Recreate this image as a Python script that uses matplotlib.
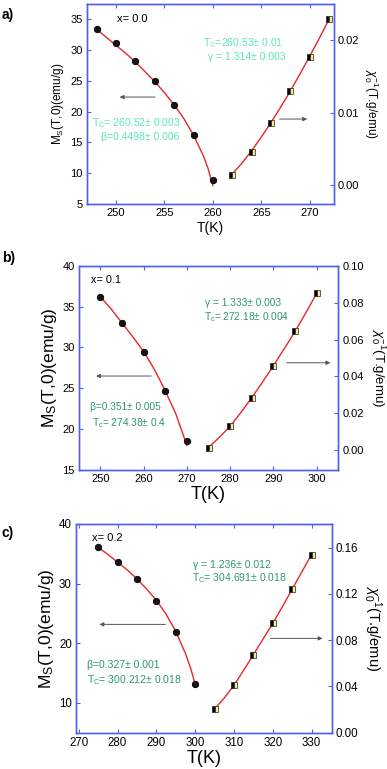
import matplotlib
matplotlib.use("Agg")
import matplotlib.pyplot as plt

plt.rcParams['font.family'] = ['Liberation Sans', 'DejaVu Sans']
plt.rcParams['mathtext.fontset'] = 'custom'
plt.rcParams['mathtext.rm'] = 'Liberation Sans'
plt.rcParams['mathtext.it'] = 'Liberation Sans:italic'

# ---- panel a) x = 0.0
a_T_ms = [248, 250, 252, 254, 256, 258, 260]
a_ms = [33.4, 31.2, 28.3, 25.0, 21.1, 16.2, 8.9]
a_T_chi = [262, 264, 266, 268, 270, 272]
a_chi = [0.00146, 0.00464, 0.00856, 0.0130, 0.0177, 0.0229]
a_fitT_ms = [248, 249, 250, 251, 252, 253, 254, 255, 256, 257, 258, 259, 259.5, 260]
a_fit_ms = [33.4, 32.1, 30.8, 29.5, 28.1, 26.5, 24.9, 23.1, 21.1, 18.9, 16.2, 12.9, 10.8, 8.0]
a_fitT_chi = [262, 263, 264, 265, 266, 267, 268, 269, 270, 271, 272]
a_fit_chi = [0.00154, 0.00304, 0.00476, 0.00663, 0.00865, 0.01077, 0.0130, 0.01536, 0.0178, 0.0203, 0.0229]

# ---- panel b) x = 0.1
b_T_ms = [250, 255, 260, 265, 270]
b_ms = [36.17, 32.94, 29.48, 24.63, 18.55]
b_T_chi = [275, 280, 285, 290, 295, 300]
b_chi = [0.00144, 0.0130, 0.0285, 0.0458, 0.0644, 0.0850]
b_fitT_ms = [250, 252.5, 255, 257.5, 260, 262.5, 265, 267.5, 270]
b_fit_ms = [36.2, 34.7, 33.0, 31.3, 29.5, 27.3, 24.7, 21.8, 18.0]
b_fitT_chi = [275, 277.5, 280, 282.5, 285, 287.5, 290, 292.5, 295, 297.5, 300]
b_fit_chi = [0.0015, 0.007, 0.013, 0.0205, 0.0285, 0.037, 0.0458, 0.055, 0.0644, 0.0745, 0.085]

# ---- panel c) x = 0.2
c_T_ms = [275, 280, 285, 290, 295, 300]
c_ms = [36.08, 33.66, 30.80, 27.16, 21.89, 13.09]
c_T_chi = [305, 310, 315, 320, 325, 330]
c_chi = [0.0205, 0.0409, 0.0674, 0.0945, 0.1241, 0.1541]
c_fitT_ms = [275, 277.5, 280, 282.5, 285, 287.5, 290, 292.5, 295, 297.5, 299, 300]
c_fit_ms = [36.1, 34.9, 33.6, 32.3, 30.8, 29.1, 27.2, 24.9, 22.0, 18.3, 15.5, 13.1]
c_fitT_chi = [305, 307.5, 310, 312.5, 315, 317.5, 320, 322.5, 325, 327.5, 330]
c_fit_chi = [0.0205, 0.030, 0.0409, 0.054, 0.0674, 0.081, 0.0945, 0.109, 0.1241, 0.139, 0.1541]

BLUE = '#4f5ff2'
RED = '#e8262b'
LIGHT = '#5ce6b2'
TEAL = '#2f9670'

fig = plt.figure(figsize=(3.87, 7.69), dpi=100)


def panel(rect, T_ms, ms, T_chi, chi, fT_ms, f_ms, fT_chi, f_chi,
          xlim, ylim, ylim2, xticks, yticks, yticks2, fs_tick):
    ax = fig.add_axes(rect)
    ax2 = ax.twinx()
    ax.plot(fT_ms, f_ms, color=RED, lw=1.0, zorder=2)
    ax.plot(T_ms, ms, 'o', ms=4.6, mfc='#151515', mec='#000000', mew=0.6, zorder=3)
    ax2.plot(fT_chi, f_chi, color=RED, lw=1.0, zorder=2)
    ax2.plot(T_chi, chi, 's', ms=4.0, fillstyle='left', mfc='#000000',
             mfcalt='#f0f08a', mec='#202020', mew=0.5, zorder=3)
    ax.set_xlim(*xlim)
    ax.set_ylim(*ylim)
    ax2.set_ylim(*ylim2)
    ax.set_xticks(xticks)
    ax.set_yticks(yticks)
    ax2.set_yticks(yticks2)
    for a in (ax, ax2):
        for s in a.spines.values():
            s.set_color(BLUE)
            s.set_linewidth(1.0)
    ax.tick_params(axis='both', direction='in', color=BLUE, length=3,
                   labelsize=fs_tick, top=True, pad=3)
    ax.tick_params(axis='y', right=False)
    ax2.tick_params(axis='y', direction='in', color=BLUE, length=3,
                    labelsize=fs_tick, pad=3)
    return ax, ax2


def arrow(ax, x0, x1, y):
    ax.annotate('', xy=(x1, y), xytext=(x0, y), xycoords='axes fraction',
                arrowprops=dict(arrowstyle='-|>', color='#555555', lw=0.7,
                                mutation_scale=6))


def note(ax, x, y, s, size, color):
    ax.text(x, y, s, transform=ax.transAxes, fontsize=size, color=color, va='center')


# ---- a)
ax, ax2 = panel([0.2248, 0.7347, 0.638, 0.260], a_T_ms, a_ms, a_T_chi, a_chi,
                a_fitT_ms, a_fit_ms, a_fitT_chi, a_fit_chi,
                (247.0, 272.5), (5, 37.5), (-0.0026, 0.025),
                [250, 255, 260, 265, 270], [5, 10, 15, 20, 25, 30, 35],
                [0.00, 0.01, 0.02], 8)
ax.set_xlabel('T(K)', fontsize=10, labelpad=2)
ax.set_ylabel(r'M$_\mathregular{S}$(T,0)(emu/g)', fontsize=8.5, labelpad=3)
ax2.set_ylabel(r'$\chi_0^{-1}$(T.g/emu)', fontsize=8.5, rotation=270, labelpad=15)
note(ax, 0.12, 0.925, 'x= 0.0', 8, 'black')
note(ax, 0.471, 0.803, r'T$_\mathregular{C}$=260.53± 0.01', 7.5, LIGHT)
note(ax, 0.49, 0.733, 'γ = 1.314± 0.003', 7.5, LIGHT)
note(ax, 0.019, 0.406, r'T$_\mathregular{C}$= 260.52± 0.003', 7.5, LIGHT)
note(ax, 0.055, 0.337, 'β=0.4498± 0.006', 7.5, LIGHT)
arrow(ax, 0.287, 0.121, 0.535)
arrow(ax, 0.769, 0.903, 0.425)

# ---- b)
ax, ax2 = panel([0.2034, 0.3888, 0.6708, 0.2657], b_T_ms, b_ms, b_T_chi, b_chi,
                b_fitT_ms, b_fit_ms, b_fitT_chi, b_fit_chi,
                (245, 305), (15, 40), (-0.0107, 0.10),
                [250, 260, 270, 280, 290, 300], [15, 20, 25, 30, 35, 40],
                [0.00, 0.02, 0.04, 0.06, 0.08, 0.10], 8)
ax.set_xlabel('T(K)', fontsize=13, labelpad=1)
ax.set_ylabel(r'M$_\mathregular{S}$(T,0)(emu/g)', fontsize=12.5, labelpad=2)
ax2.set_ylabel(r'$\chi_0^{-1}$(T.g/emu)', fontsize=9.5, rotation=270, labelpad=17)
note(ax, 0.046, 0.93, 'x= 0.1', 7.8, 'black')
note(ax, 0.486, 0.816, 'γ = 1.333± 0.003', 7.3, TEAL)
note(ax, 0.483, 0.75, r'T$_\mathregular{c}$= 272.18± 0.004', 7.3, TEAL)
note(ax, 0.0435, 0.31, 'β=0.351± 0.005', 7.3, TEAL)
note(ax, 0.05, 0.229, r'T$_\mathregular{c}$= 274.38± 0.4', 7.3, TEAL)
arrow(ax, 0.290, 0.056, 0.46)
arrow(ax, 0.791, 0.98, 0.525)

# ---- c)
ax, ax2 = panel([0.1964, 0.0472, 0.6607, 0.2714], c_T_ms, c_ms, c_T_chi, c_chi,
                c_fitT_ms, c_fit_ms, c_fitT_chi, c_fit_chi,
                (269.3, 335.2), (5, 40), (0.0, 0.1805),
                [270, 280, 290, 300, 310, 320, 330], [10, 20, 30, 40],
                [0.00, 0.04, 0.08, 0.12, 0.16], 8.3)
ax.set_xlabel('T(K)', fontsize=13, labelpad=1)
ax.set_ylabel(r'M$_\mathregular{S}$(T,0)(emu/g)', fontsize=12.5, labelpad=2)
ax2.set_ylabel(r'$\chi_0^{-1}$(T.g/emu)', fontsize=10.5, rotation=270, labelpad=18)
note(ax, 0.061, 0.931, 'x= 0.2', 8, 'black')
note(ax, 0.456, 0.804, 'γ = 1.236± 0.012', 7.5, TEAL)
note(ax, 0.452, 0.743, r'T$_\mathregular{C}$= 304.691± 0.018', 7.5, TEAL)
note(ax, 0.042, 0.324, 'β=0.327± 0.001', 7.5, TEAL)
note(ax, 0.042, 0.253, r'T$_\mathregular{C}$= 300.212± 0.018', 7.5, TEAL)
arrow(ax, 0.361, 0.081, 0.519)
arrow(ax, 0.75, 0.975, 0.452)

# panel letters
for lab, y in (('a)', 15), ('b)', 258), ('c)', 533)):
    fig.text(2 / 387, 1 - y / 769, lab, fontsize=10, fontweight='bold', va='center')

fig.savefig('out.png', dpi=100)
